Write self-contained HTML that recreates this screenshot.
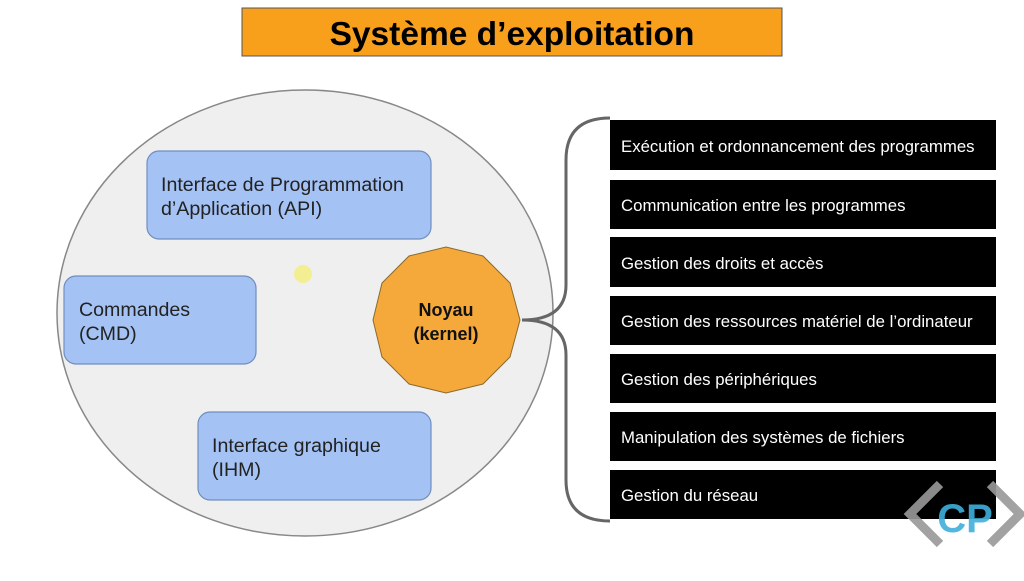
<!DOCTYPE html>
<html><head><meta charset="utf-8"><style>
body{margin:0;width:1024px;height:576px;background:#fff;overflow:hidden;font-family:"Liberation Sans",sans-serif}
</style></head><body>
<svg width="1024" height="576" viewBox="0 0 1024 576" xmlns="http://www.w3.org/2000/svg" font-family="Liberation Sans, sans-serif">
<rect x="242" y="8" width="540" height="48" fill="#f89f1c" stroke="#555" stroke-width="1"/>
<text x="512" y="45" text-anchor="middle" font-size="33.5" font-weight="bold" fill="#000">Système d’exploitation</text>
<ellipse cx="305" cy="313" rx="248" ry="223" fill="#efefef" stroke="#888" stroke-width="1.5"/>
<g fill="#a4c2f4" stroke="#6f8fbf" stroke-width="1.2">
<rect x="147" y="151" width="284" height="88" rx="12"/>
<rect x="64" y="276" width="192" height="88" rx="12"/>
<rect x="198" y="412" width="233" height="88" rx="12"/>
</g>
<g font-size="19.6" fill="#222">
<text x="161" y="191">Interface de Programmation</text>
<text x="161" y="215">d’Application (API)</text>
<text x="79" y="316">Commandes</text>
<text x="79" y="340">(CMD)</text>
<text x="212" y="452">Interface graphique</text>
<text x="212" y="476">(IHM)</text>
</g>
<circle cx="303" cy="274" r="9" fill="#f5ee7a" opacity="0.8"/>
<polygon points="520,320 510,283 483,256 446,247 409,256 382,283 373,320 382,357 409,384 446,393 483,384 510,357" fill="#f6a93b" stroke="#8a6a30" stroke-width="1"/>
<text x="446" y="316" text-anchor="middle" font-size="18" font-weight="bold" fill="#111">Noyau</text>
<text x="446" y="340" text-anchor="middle" font-size="18" font-weight="bold" fill="#111">(kernel)</text>
<path d="M610,118 Q566,118 566,160 L566,285 Q566,320 522,320 Q566,320 566,355 L566,480 Q566,521 610,521" fill="none" stroke="#666" stroke-width="3"/>
<g fill="#000">
<rect x="610" y="120" width="386" height="50"/>
<rect x="610" y="180" width="386" height="49"/>
<rect x="610" y="237" width="386" height="50"/>
<rect x="610" y="296" width="386" height="49"/>
<rect x="610" y="354" width="386" height="49"/>
<rect x="610" y="412" width="386" height="49"/>
<rect x="610" y="470" width="386" height="49"/>
</g>
<g font-size="16.8" fill="#fff">
<text x="621" y="152">Exécution et ordonnancement des programmes</text>
<text x="621" y="211">Communication entre les programmes</text>
<text x="621" y="269">Gestion des droits et accès</text>
<text x="621" y="327">Gestion des ressources matériel de l’ordinateur</text>
<text x="621" y="385">Gestion des périphériques</text>
<text x="621" y="443">Manipulation des systèmes de fichiers</text>
<text x="621" y="501">Gestion du réseau</text>
</g>
<g stroke="#999" stroke-width="9" fill="none" opacity="0.9">
<polyline points="940,484 910,514 940,544"/>
<polyline points="990,484 1020,514 990,544"/>
</g>
<text x="965" y="532" text-anchor="middle" font-size="40" font-weight="bold" fill="#3fb0dc" opacity="0.9">CP</text>
</svg>
</body></html>
